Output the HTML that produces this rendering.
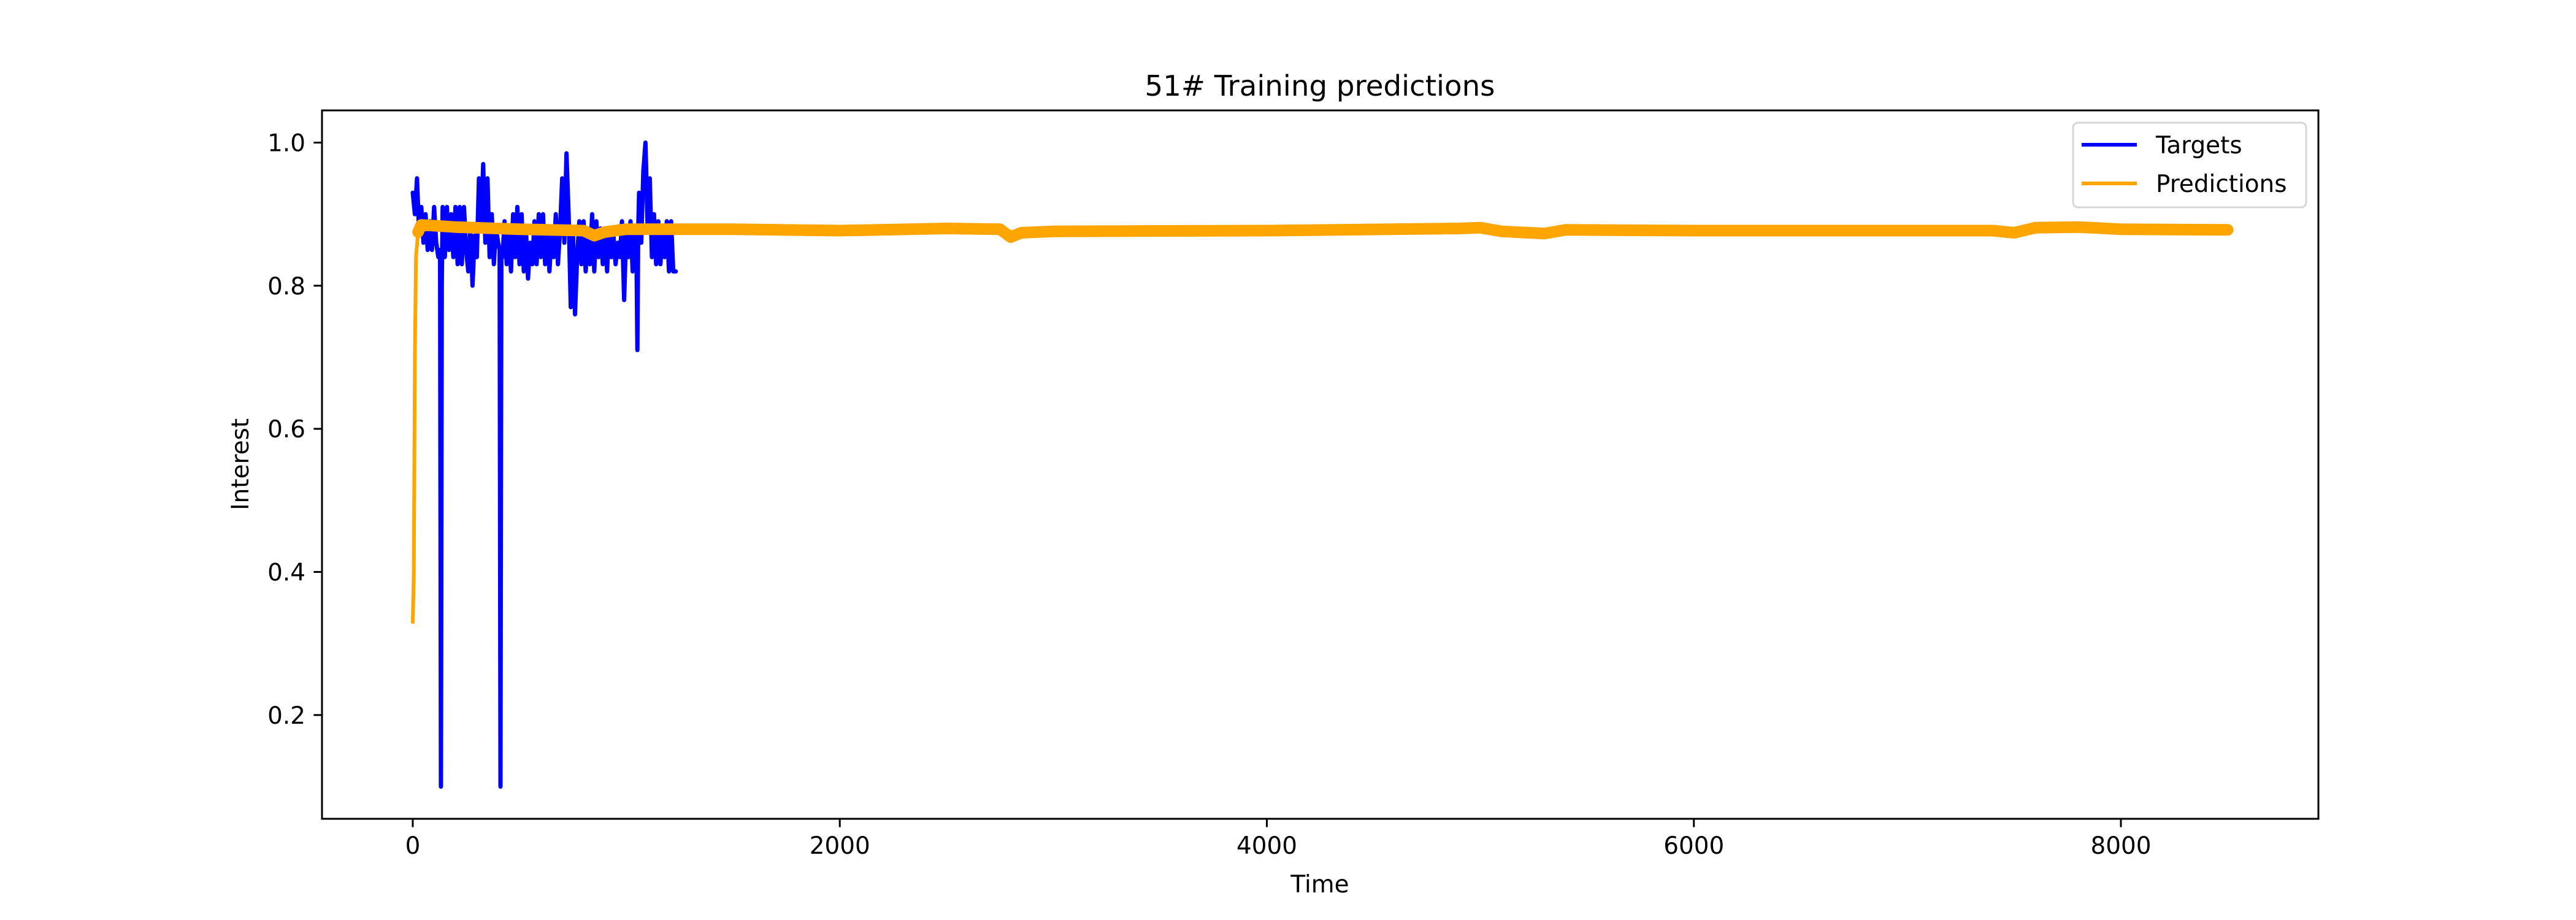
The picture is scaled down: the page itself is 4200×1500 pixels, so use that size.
<!DOCTYPE html>
<html><head><meta charset="utf-8"><style>
html,body{margin:0;padding:0;background:#fff;}
svg{display:block;font-family:"DejaVu Sans","Liberation Sans",sans-serif;}
</style></head><body>
<svg id="chart" width="4200" height="1500" viewBox="0 0 4200 1500" xmlns="http://www.w3.org/2000/svg">
<rect width="4200" height="1500" fill="#fff"/>
<text x="2152" y="156" font-size="46.7" text-anchor="middle">51# Training predictions</text>
<text x="2152" y="1455" font-size="38.9" text-anchor="middle">Time</text>
<text x="0" y="0" font-size="38.9" text-anchor="middle" transform="translate(405,757) rotate(-90)">Interest</text>
<g id="plot"></g>
<g id="axes"></g>
<g id="legend">
  <rect x="3380" y="200" width="380" height="138" rx="8" fill="#fff" fill-opacity="0.8" stroke="#d6d6d6" stroke-width="3"/>
  <line x1="3394" y1="236" x2="3484" y2="236" stroke="#0000ff" stroke-width="6"/>
  <text x="3515" y="250" font-size="38.9">Targets</text>
  <line x1="3394" y1="299" x2="3484" y2="299" stroke="#ffa500" stroke-width="6"/>
  <text x="3515" y="313" font-size="38.9">Predictions</text>
</g>
</svg>
<script>
const xTicks = [0, 2000, 4000, 6000, 8000];
const yTicks = [0.2, 0.4, 0.6, 0.8, 1.0];
const yTickLabels = ["0.2", "0.4", "0.6", "0.8", "1.0"];
const targetX = [0,10,20,30,40,50,60,70,80,90,100,110,120,128,132,136,140,150,160,170,180,190,200,210,220,230,240,250,260,270,280,290,300,310,320,330,340,350,360,370,380,390,400,407,411,415,420,430,440,450,460,470,480,490,500,510,520,530,540,550,560,570,580,590,600,610,620,630,640,650,660,670,680,690,700,710,720,730,740,750,760,770,780,790,800,810,820,830,840,850,860,870,880,890,900,910,920,930,940,950,960,970,980,990,1000,1010,1020,1030,1040,1048,1052,1056,1060,1070,1080,1090,1100,1110,1120,1130,1140,1150,1160,1170,1180,1190,1200,1210,1220,1232];
const targetY = [0.93,0.90,0.95,0.87,0.91,0.86,0.90,0.85,0.89,0.85,0.91,0.86,0.84,
  0.85,0.10,0.80,
  0.91,0.84,0.91,0.85,0.90,0.84,0.91,0.83,0.91,0.83,0.91,0.85,0.82,0.88,0.80,0.87,0.84,0.95,0.88,0.97,0.86,0.95,0.84,0.90,0.83,0.88,0.86,
  0.85,0.10,0.84,
  0.84,0.89,0.83,0.88,0.82,0.90,0.84,0.91,0.83,0.90,
  0.82,0.88,0.81,0.86,0.83,0.89,0.83,0.90,0.84,0.90,
  0.83,0.88,0.82,0.87,0.84,0.90,0.83,0.88,0.95,0.86,
  0.985,0.90,0.77,0.88,0.76,0.84,0.89,0.83,0.89,0.82,
  0.87,0.83,0.90,0.82,0.89,0.84,0.88,0.83,0.88,0.82,
  0.88,0.84,0.87,0.83,0.86,0.84,0.89,0.78,0.88,0.84,
  0.89,0.82,0.87,
  0.84,0.71,0.88,
  0.93,0.86,0.96,1.00,0.88,0.95,0.84,0.90,0.83,0.89,0.83,0.88,0.84,0.89,0.82,0.89,0.82,
  0.82];
const predX = [0,5,10,15,25,40,200,500,800,850,900,1000,1500,2000,2500,2750,2800,2850,3000,4000,4900,5000,5100,5300,5400,6000,7000,7400,7500,7600,7800,8000,8500];
const predY = [0.33,0.40,0.70,0.84,0.875,0.885,0.882,0.879,0.877,0.870,0.875,0.879,0.879,0.877,0.880,0.879,0.868,0.874,0.876,0.877,0.880,0.881,0.876,0.873,0.878,0.877,0.877,0.877,0.874,0.881,0.882,0.879,0.878];

const L = 525, R = 3780, T = 180, B = 1335;
const xMin = -425, xMax = 8925, yMin = 0.055, yMax = 1.045;
function sx(v){ return L + (v - xMin) / (xMax - xMin) * (R - L); }
function sy(v){ return B - (v - yMin) / (yMax - yMin) * (B - T); }
const NS = "http://www.w3.org/2000/svg";
const plot = document.getElementById('plot');
const axes = document.getElementById('axes');
function mk(tag, attrs, parent){ const e = document.createElementNS(NS, tag); for (const k in attrs) e.setAttribute(k, attrs[k]); parent.appendChild(e); return e; }
function pathD(xs, ys, start){ let d = ''; for (let i = start; i < xs.length; i++){ d += (i === start ? 'M' : 'L') + sx(xs[i]).toFixed(1) + ',' + sy(ys[i]).toFixed(1); } return d; }

const tPath = mk('path', {d: pathD(targetX, targetY, 0), fill: 'none', stroke: '#0000ff', 'stroke-width': 7, 'stroke-linejoin': 'round', 'stroke-linecap': 'round'}, plot);



const pPath = mk('path', {d: pathD(predX, predY, 0), fill: 'none', stroke: '#ffa500', 'stroke-width': 6, 'stroke-linejoin': 'round', 'stroke-linecap': 'round'}, plot);


const pBand = mk('path', {d: pathD(predX, predY, 4), fill: 'none', stroke: '#ffa500', 'stroke-width': 19, 'stroke-linejoin': 'round', 'stroke-linecap': 'round'}, plot);



const frame = mk('rect', {x: L, y: T, width: R - L, height: B - T, fill: 'none', stroke: '#000', 'stroke-width': 3}, axes);



xTicks.forEach(function(v){
  const x = sx(v);
  const tk = mk('line', {x1: x, y1: B, x2: x, y2: B + 13.6, stroke: '#000', 'stroke-width': 3}, axes);
  
  
  const lb = mk('text', {x: x, y: B + 57, 'font-size': 38.9, 'text-anchor': 'middle'}, axes);
  lb.textContent = String(v);
  
  
});
yTicks.forEach(function(v, i){
  const y = sy(v);
  const tk = mk('line', {x1: L - 13.6, y1: y, x2: L, y2: y, stroke: '#000', 'stroke-width': 3}, axes);
  
  
  const lb = mk('text', {x: L - 27, y: y + 14, 'font-size': 38.9, 'text-anchor': 'end'}, axes);
  lb.textContent = yTickLabels[i];
  
  
});
</script>
</body></html>
